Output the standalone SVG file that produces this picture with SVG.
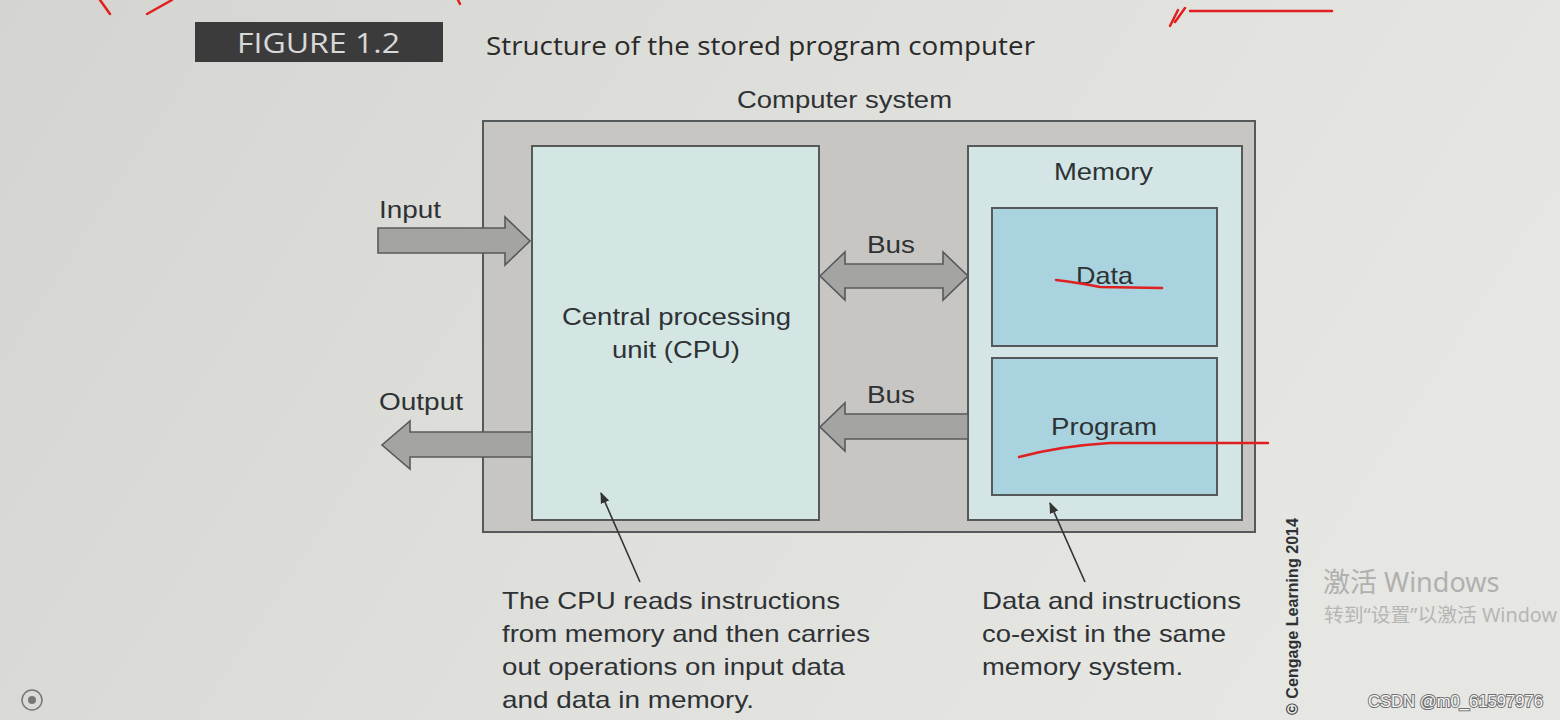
<svg xmlns="http://www.w3.org/2000/svg" width="1560" height="720" viewBox="0 0 1560 720">
<defs>
<linearGradient id="bg" x1="0" y1="0" x2="1" y2="0.3">
<stop offset="0" stop-color="#d4d4d0"/>
<stop offset="0.5" stop-color="#dededb"/>
<stop offset="1" stop-color="#e6e6e3"/>
</linearGradient>
<marker id="ptr" viewBox="0 0 10 10" refX="9" refY="5" markerWidth="7" markerHeight="7" orient="auto">
<path d="M0,1 L10,5 L0,9 Z" fill="#333"/>
</marker>
<style>
.t{font-family:"Liberation Sans",Arial,sans-serif;fill:#2e3234;}
.big{font-size:24px;}
.cap{font-size:24px;}
.hdr{font-family:"Open Sans","Liberation Sans",sans-serif;}
.box{stroke:#55595a;stroke-width:2;}
.arr{fill:#a4a4a2;stroke:#58595a;stroke-width:1.6;stroke-linejoin:miter;}
.ptr{stroke:#333;stroke-width:1.6;fill:none;}
.red{stroke:#e02020;stroke-width:2.5;fill:none;stroke-linecap:round;}
</style>
</defs>
<rect x="0" y="0" width="1560" height="720" fill="url(#bg)"/>

<!-- red annotation marks at top -->
<path class="red" d="M100,0 L110,14"/>
<path class="red" d="M147,14 L172,0"/>
<path class="red" d="M458,0 L460,4"/>
<path class="red" d="M1170,26 L1178,10 M1175,22 L1185,8 M1190,11 L1332,11"/>

<g id="figure-label">
<rect x="195" y="22" width="248" height="40" fill="#3b3b3b"/>
<text class="hdr" x="237" y="53" font-size="28" fill="#d8d8d8" textLength="163" lengthAdjust="spacingAndGlyphs">FIGURE 1.2</text>
</g>
<g id="title">
<text class="hdr" x="486" y="55" font-size="26" fill="#2a2a2a" textLength="549" lengthAdjust="spacingAndGlyphs">Structure of the stored program computer</text>
</g>

<g id="computer-system">
<text class="t big" x="737" y="108" textLength="215" lengthAdjust="spacingAndGlyphs">Computer system</text>
<rect class="box" x="483" y="121" width="772" height="411" fill="#c8c6c3"/>
</g>

<g id="cpu">
<rect class="box" x="532" y="146" width="287" height="374" fill="#d3e6e3"/>
<text class="t big" x="562" y="325" textLength="229" lengthAdjust="spacingAndGlyphs">Central processing</text>
<text class="t big" x="612" y="358" textLength="128" lengthAdjust="spacingAndGlyphs">unit (CPU)</text>
</g>

<g id="memory">
<rect class="box" x="968" y="146" width="274" height="374" fill="#d3e6e5"/>
<text class="t big" x="1054" y="180" textLength="99" lengthAdjust="spacingAndGlyphs">Memory</text>
</g>
<g id="data">
<rect class="box" x="992" y="208" width="225" height="138" fill="#a9d3de"/>
<text class="t big" x="1076" y="284" textLength="57" lengthAdjust="spacingAndGlyphs">Data</text>
<path class="red" d="M1056,280 Q1080,283 1100,287 L1162,288"/>
</g>
<g id="program">
<rect class="box" x="992" y="358" width="225" height="137" fill="#a9d3de"/>
<text class="t big" x="1051" y="435" textLength="106" lengthAdjust="spacingAndGlyphs">Program</text>
<path class="red" d="M1019,457 Q1060,446 1110,443 L1268,443"/>
</g>

<g id="connectors">
<!-- Input arrow -->
<path class="arr" d="M378,228 L505,228 L505,217 L530,241 L505,265 L505,253 L378,253 Z"/>
<!-- Output arrow -->
<path class="arr" d="M532,432 L410,432 L410,421 L382,445 L410,469 L410,457 L532,457 Z"/>
<!-- Bus top (bidirectional) -->
<path class="arr" d="M820,276 L845,252 L845,264 L943,264 L943,252 L968,276 L943,300 L943,288 L845,288 L845,300 Z"/>
<!-- Bus bottom (to CPU) -->
<path class="arr" d="M968,414 L845,414 L845,403 L820,427 L845,451 L845,439 L968,439 Z"/>
<!-- pointer lines -->
<line class="ptr" x1="640" y1="582" x2="601" y2="493" marker-end="url(#ptr)"/>
<line class="ptr" x1="1085" y1="582" x2="1050" y2="503" marker-end="url(#ptr)"/>
</g>

<g id="labels">
<text class="t big" x="379" y="218" textLength="62" lengthAdjust="spacingAndGlyphs">Input</text>
<text class="t big" x="379" y="410" textLength="84" lengthAdjust="spacingAndGlyphs">Output</text>
<text class="t big" x="867" y="253" textLength="48" lengthAdjust="spacingAndGlyphs">Bus</text>
<text class="t big" x="867" y="403" textLength="48" lengthAdjust="spacingAndGlyphs">Bus</text>
</g>

<g id="cpu-note">
<text class="t cap" x="502" y="609" textLength="338" lengthAdjust="spacingAndGlyphs">The CPU reads instructions</text>
<text class="t cap" x="502" y="642" textLength="368" lengthAdjust="spacingAndGlyphs">from memory and then carries</text>
<text class="t cap" x="502" y="675" textLength="343" lengthAdjust="spacingAndGlyphs">out operations on input data</text>
<text class="t cap" x="502" y="708" textLength="252" lengthAdjust="spacingAndGlyphs">and data in memory.</text>
</g>
<g id="memory-note">
<text class="t cap" x="982" y="609" textLength="259" lengthAdjust="spacingAndGlyphs">Data and instructions</text>
<text class="t cap" x="982" y="642" textLength="244" lengthAdjust="spacingAndGlyphs">co-exist in the same</text>
<text class="t cap" x="982" y="675" textLength="201" lengthAdjust="spacingAndGlyphs">memory system.</text>
</g>

<g id="copyright">
<text x="1298" y="715" transform="rotate(-90 1298 715)" font-family="Liberation Sans, Arial, sans-serif" font-weight="bold" font-size="17" fill="#2e3234" textLength="197" lengthAdjust="spacingAndGlyphs">© Cengage Learning 2014</text>
</g>

<g id="watermarks">
<text x="1323" y="592" font-family="'Noto Sans','Noto Sans CJK SC',sans-serif" font-size="27" fill="#b0b0ae">激活 Windows</text>
<text x="1324" y="622" font-family="'Noto Sans','Noto Sans CJK SC',sans-serif" font-size="19.5" fill="#b6b6b4" textLength="233" lengthAdjust="spacingAndGlyphs">转到“设置”以激活 Window</text>
<text x="1368" y="707" font-family="'Liberation Sans',Arial,sans-serif" font-size="16.5" fill="#f6f6f6" stroke="#707070" stroke-width="2" paint-order="stroke" textLength="175" lengthAdjust="spacingAndGlyphs">CSDN @m0_61597976</text>
</g>

<g id="icon">
<circle cx="32" cy="700" r="10" fill="none" stroke="#777" stroke-width="1.5"/>
<circle cx="32" cy="700" r="4" fill="#777"/>
</g>
</svg>
